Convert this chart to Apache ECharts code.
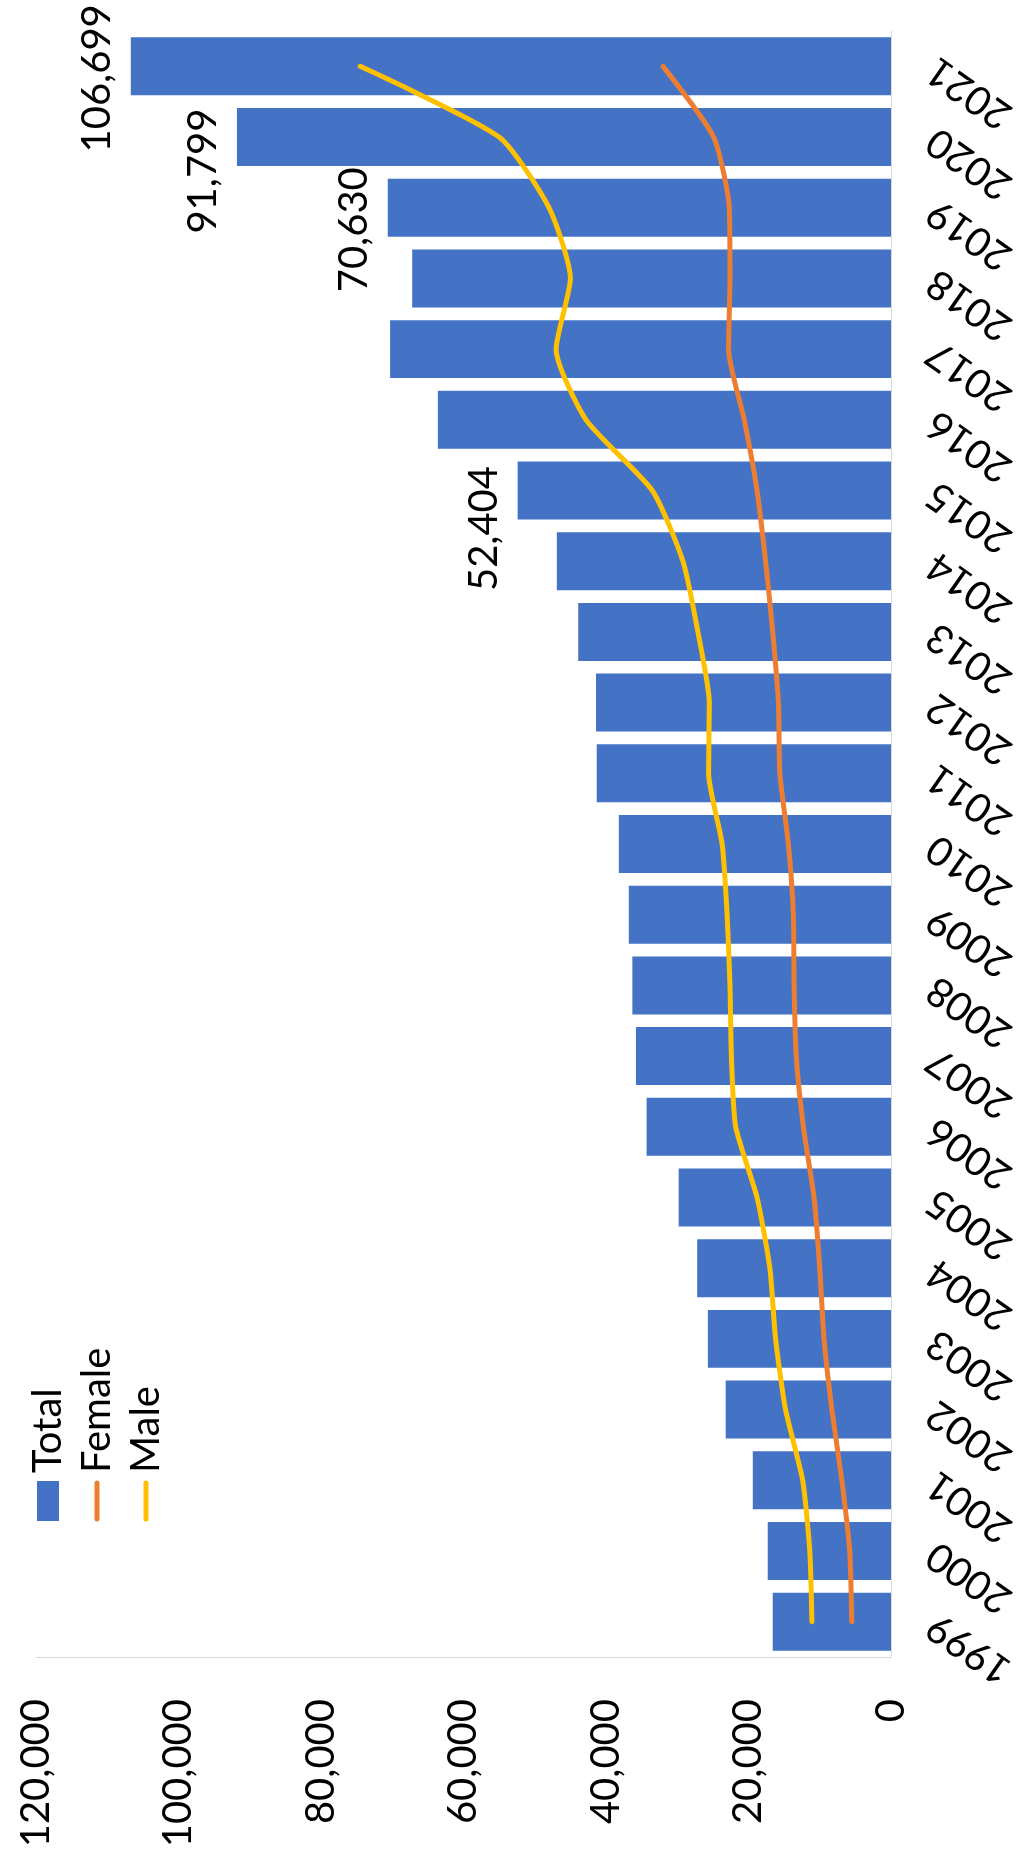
<!DOCTYPE html>
<html><head><meta charset="utf-8">
<script src="https://cdn.jsdelivr.net/npm/echarts@6/dist/echarts.min.js"></script>
<style>html,body{margin:0;padding:0;background:#fff;} #c{width:1016px;height:1870px;}</style>
</head><body><div id="c"></div>
<script>
const years = ['1999','2000','2001','2002','2003','2004','2005','2006','2007','2008','2009','2010','2011','2012','2013','2014','2015','2016','2017','2018','2019','2020','2021'];
const totalValues = [16600, 17300, 19400, 23200, 25700, 27200, 29800, 34300, 35800, 36300, 36800, 38200, 41300, 41400, 43900, 46900, 52404, 63600, 70300, 67200, 70630, 91799, 106699];
const femaleValues = [5500, 5800, 6900, 8300, 9400, 10000, 10800, 12300, 13300, 13600, 13700, 14400, 15600, 15800, 16600, 17600, 18800, 20600, 22800, 22600, 22700, 24900, 32000];
const maleValues = [11100, 11400, 12400, 14800, 16200, 17000, 18800, 21800, 22400, 22600, 23000, 23700, 25600, 25500, 27100, 29200, 33500, 42800, 47000, 45000, 48000, 55000, 74500];
const labeledYears = ['2015', '2019', '2020', '2021'];
const legendNames = ['Total', 'Female', 'Male'];

const FONT = 'Lato';
const COLORS = {Total: '#4472C4', Female: '#ED7D31', Male: '#FFC000'};
const labelShift = {'2015': 38, '2019': 22, '2020': 34, '2021': 12};
const fmt = v => Number(v).toLocaleString('en-US');

const chart = echarts.init(document.getElementById('c'), null, {renderer: 'canvas'});

const barData = years.map((y, i) => labeledYears.includes(y)
  ? {value: totalValues[i], label: {show: true, offset: [-labelShift[y], 0]}}
  : totalValues[i]);

const legendChildren = [];
legendNames.forEach((n, i) => {
  const cy = i * 49;
  if (n === 'Total') {
    legendChildren.push({type: 'rect', shape: {x: 0, y: cy - 11, width: 40, height: 22}, style: {fill: COLORS[n]}});
  } else {
    legendChildren.push({type: 'line', shape: {x1: 2, y1: cy, x2: 38, y2: cy}, style: {stroke: COLORS[n], lineWidth: 5, lineCap: 'round'}});
  }
  legendChildren.push({type: 'text', x: 48, y: cy, style: {text: n, fontFamily: FONT, fontSize: 40, fill: '#000', verticalAlign: 'middle', align: 'left'}});
});

const option = {
  animation: false,
  backgroundColor: '#fff',
  grid: {left: 36, right: 125, top: 31, bottom: 213, containLabel: false, outerBoundsMode: 'none'},
  xAxis: {
    type: 'value', inverse: true, min: 0, max: 120000, interval: 20000, position: 'bottom',
    axisLine: {show: true, lineStyle: {color: '#d9d9d9', width: 1}},
    axisTick: {show: false}, splitLine: {show: false},
    axisLabel: {rotate: 90, margin: 42, fontFamily: FONT, fontSize: 40, color: '#000', formatter: fmt}
  },
  yAxis: {
    type: 'category', data: years, position: 'right',
    axisLine: {show: true, lineStyle: {color: '#d9d9d9', width: 1}},
    axisTick: {show: false}, splitLine: {show: false},
    axisLabel: {rotate: 145, margin: 40, interval: 0, fontFamily: FONT, fontSize: 40, color: '#000'}
  },
  series: [
    {
      name: 'Total', type: 'bar', data: barData, barCategoryGap: '18%',
      itemStyle: {color: COLORS.Total},
      label: {show: false, position: 'left', rotate: 90, align: 'center', verticalAlign: 'bottom', distance: 14,
        fontFamily: FONT, fontSize: 40, color: '#000', formatter: p => fmt(p.value)}
    },
    {
      name: 'Female', type: 'line', data: femaleValues, symbol: 'none', smooth: 0.2, z: 3,
      lineStyle: {color: COLORS.Female, width: 5, cap: 'round'}, itemStyle: {color: COLORS.Female}
    },
    {
      name: 'Male', type: 'line', data: maleValues, symbol: 'none', smooth: 0.2, z: 4,
      lineStyle: {color: COLORS.Male, width: 5, cap: 'round'}, itemStyle: {color: COLORS.Male}
    }
  ],
  graphic: [{type: 'group', x: 48, y: 1521, rotation: Math.PI / 2, children: legendChildren}]
};
chart.setOption(option);
</script>
</body></html>
